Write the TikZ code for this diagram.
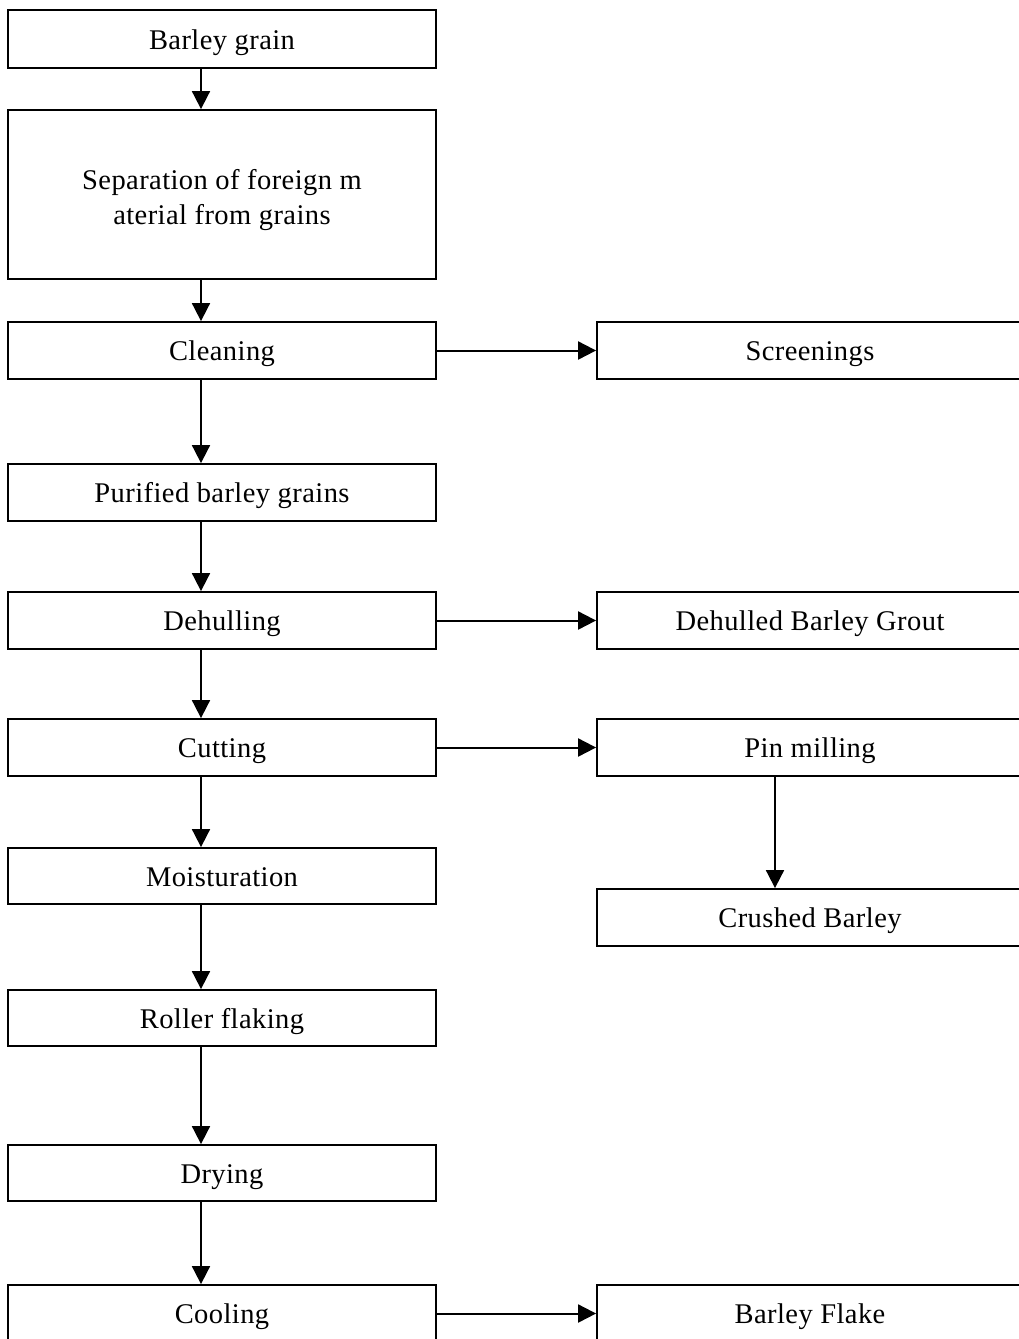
\documentclass[tikz,border=0pt]{standalone}
\usepackage{fontspec}
\setmainfont{Liberation Serif}[LetterSpace=1.5]
\usetikzlibrary{arrows.meta}
\begin{document}
\begin{tikzpicture}[x=1pt,y=-1pt,
  box/.style={draw, line width=1.8pt, minimum width=428pt, inner sep=0pt, align=center,
    text height=20pt, text depth=0pt, font=\fontsize{28.5}{35}\selectfont},
  rbox/.style={box, minimum width=426pt},
  arr/.style={line width=1.8pt, -{Triangle[length=18pt,width=18pt]}},
  harr/.style={arr, line width=2pt, yshift=-0.5pt}]
\useasboundingbox (0,0) rectangle (1018,1339);
% left column
\node[box, minimum height=58pt] (a) at (222,39) {Barley grain};
\node[box, minimum height=169pt, text height=, text depth=,
  label={[font=\fontsize{28.5}{35}\selectfont, align=center, yshift=-6pt]center:Separation of foreign m\\aterial from grains}] (b) at (222,194.5) {};
\node[box, minimum height=57pt] (c) at (222,350.5) {Cleaning};
\node[box, minimum height=57pt] (d) at (222,492.5) {Purified barley grains};
\node[box, minimum height=57pt] (e) at (222,620.5) {Dehulling};
\node[box, minimum height=57pt] (f) at (222,747.5) {Cutting};
\node[box, minimum height=56pt] (g) at (222,876) {Moisturation};
\node[box, minimum height=56pt] (h) at (222,1018) {Roller flaking};
\node[box, minimum height=56pt] (i) at (222,1173) {Drying};
\node[box, minimum height=57pt] (j) at (222,1313.5) {Cooling};
% right column
\node[rbox, minimum height=57pt] (s) at (810,350.5) {Screenings};
\node[rbox, minimum height=57pt] (t) at (810,620.5) {Dehulled Barley Grout};
\node[rbox, minimum height=57pt] (p) at (810,747.5) {Pin milling};
\node[rbox, minimum height=57pt] (q) at (810,917.5) {Crushed Barley};
\node[rbox, minimum height=57pt] (r) at (810,1313.5) {Barley Flake};
% arrow axes
\coordinate (ax) at (201,0);
\coordinate (bx) at (775,0);
\foreach \u/\v in {a/b,b/c,c/d,d/e,e/f,f/g,g/h,h/i,i/j}
  \draw[arr] (\u.south -| ax) -- (\v.north -| ax);
\draw[arr] (p.south -| bx) -- (q.north -| bx);
\foreach \u/\v in {c/s,e/t,f/p,j/r}
  \draw[harr] (\u.east) -- (\v.west);
\end{tikzpicture}
\end{document}
